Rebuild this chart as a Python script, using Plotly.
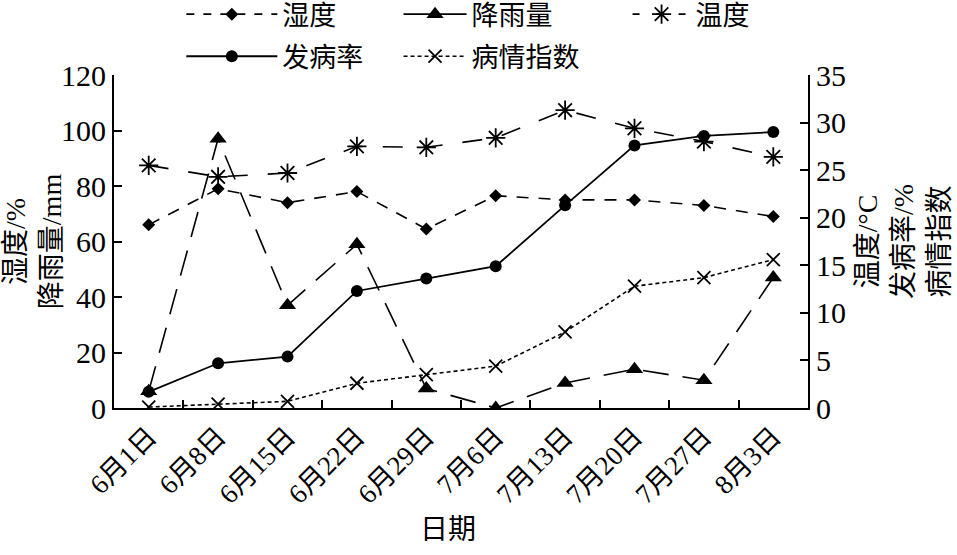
import plotly.graph_objects as go

dates = ["6月1日", "6月8日", "6月15日", "6月22日", "6月29日", "7月6日",
         "7月13日", "7月20日", "7月27日", "8月3日"]
humidity = [66, 79, 74, 78, 64.5, 76.5, 75, 75, 73, 69]           # %
rainfall = [6, 97, 37, 59, 7, 0, 9, 14, 10, 47]                   # mm
temperature = [25.5, 24.3, 24.7, 27.5, 27.4, 28.4, 31.3, 29.4, 28.0, 26.4]  # °C
incidence = [1.7, 4.7, 5.4, 12.3, 13.6, 14.9, 21.3, 27.6, 28.6, 29.0]      # %
disease_index = [0.1, 0.4, 0.7, 2.6, 3.5, 4.4, 8.0, 12.8, 13.7, 15.6]

FONT = "Liberation Serif, Noto Sans CJK SC, serif"
BLK = "black"

fig = go.Figure()

# humidity (left axis) + legend entry
fig.add_trace(go.Scatter(
    x=dates, y=humidity, name="湿度", mode="lines+markers",
    line=dict(color=BLK, width=1.6, dash="12px,10px"),
    marker=dict(symbol="diamond", size=10, color=BLK),
    showlegend=False, yaxis="y"))
fig.add_trace(go.Scatter(
    x=[None], y=[None], name="湿度", mode="lines+markers",
    line=dict(color=BLK, width=1.6, dash="8px,9px"),
    marker=dict(symbol="diamond", size=10, color=BLK),
    legend="legend", legendgroup="a", yaxis="y"))
# incidence (right axis)
fig.add_trace(go.Scatter(
    x=dates, y=incidence, name="发病率", mode="lines+markers",
    line=dict(color=BLK, width=1.8),
    marker=dict(symbol="circle", size=12, color=BLK),
    legend="legend", legendgroup="b", yaxis="y2"))

# rainfall (left axis) + legend entry
fig.add_trace(go.Scatter(
    x=dates, y=rainfall, name="降雨量", mode="lines+markers",
    line=dict(color=BLK, width=1.6, dash="26px,14px"),
    marker=dict(symbol="triangle-up", size=15, color=BLK),
    showlegend=False, yaxis="y"))
fig.add_trace(go.Scatter(
    x=[None], y=[None], name="降雨量", mode="lines+markers",
    line=dict(color=BLK, width=1.8),
    marker=dict(symbol="triangle-up", size=15, color=BLK),
    legend="legend2", legendgroup="c", yaxis="y"))
# disease index (right axis)
fig.add_trace(go.Scatter(
    x=dates, y=disease_index, name="病情指数", mode="lines+markers",
    line=dict(color=BLK, width=1.6, dash="4px,3px"),
    marker=dict(symbol="x-thin-open", size=13, line=dict(color=BLK, width=1.8)),
    legend="legend2", legendgroup="d", yaxis="y2"))

# temperature (right axis) + legend entry
fig.add_trace(go.Scatter(
    x=dates, y=temperature, name="温度", mode="lines+markers",
    line=dict(color=BLK, width=1.6, dash="20px,20px"),
    marker=dict(symbol="asterisk-open", size=16, line=dict(color=BLK, width=1.8)),
    showlegend=False, yaxis="y2"))
fig.add_trace(go.Scatter(
    x=[None], y=[None], name="温度", mode="lines+markers",
    line=dict(color=BLK, width=1.6, dash="7px,16px"),
    marker=dict(symbol="asterisk-open", size=16, line=dict(color=BLK, width=1.8)),
    legend="legend3", legendgroup="e", yaxis="y2"))

axis_common = dict(showgrid=False, zeroline=False, showline=True, linecolor=BLK,
                   linewidth=2, ticks="inside", ticklen=8, tickwidth=1.8,
                   tickcolor=BLK, tickfont=dict(family=FONT, size=30, color=BLK))

legend_common = dict(orientation="v", bgcolor="rgba(0,0,0,0)",
                     font=dict(family=FONT, size=27, color=BLK),
                     yanchor="top", xanchor="left", tracegroupgap=4,
                     y=1.255)

fig.update_layout(
    width=957, height=555,
    margin=dict(l=114, r=149, t=75, b=147, autoexpand=False),
    paper_bgcolor="white", plot_bgcolor="white",
    font=dict(family=FONT, color=BLK),
    xaxis=dict(**{k: v for k, v in axis_common.items() if k != "tickfont"},
               tickfont=dict(family=FONT, size=27, color=BLK),
               type="category", tickangle=-45, tickson="boundaries",
               range=[-0.5, 9.5]),
    yaxis=dict(**axis_common, range=[0, 120], dtick=20,
               title=dict(text="湿度/%<br>降雨量/mm",
                          font=dict(family=FONT, size=28, color=BLK), standoff=0)),
    yaxis2=dict(**axis_common, range=[0, 35], dtick=5, overlaying="y", side="right",
                title=dict(text="温度/°C<br>发病率/%<br>病情指数",
                           font=dict(family=FONT, size=28, color=BLK), standoff=12)),
    legend=dict(**legend_common, x=0.097, itemwidth=91),
    legend2=dict(**legend_common, x=0.410, itemwidth=63),
    legend3=dict(**legend_common, x=0.740, itemwidth=58),
    annotations=[dict(text="日期", xref="paper", yref="paper", x=0.481, y=-0.366,
                      xanchor="center", yanchor="middle", showarrow=False,
                      font=dict(family=FONT, size=28, color=BLK))],
)

fig.write_html(
    "out.html",
    config={"displayModeBar": False},
    post_script="document.body.style.margin='0px';document.body.style.overflow='hidden';",
)
